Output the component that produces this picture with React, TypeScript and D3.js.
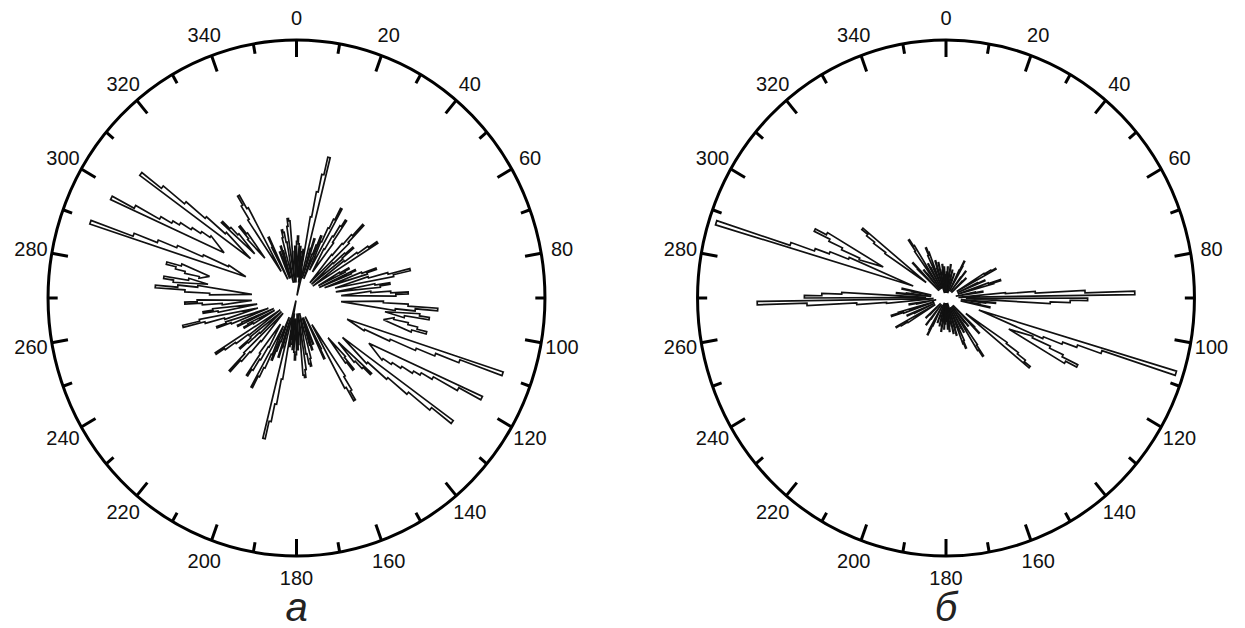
import React from 'react';
import * as d3 from 'd3';

// подписи оси через 20°, риски через 10°
const tickAngles = d3.range(0, 360, 10);
const labelAngles = d3.range(0, 360, 20);
const panelLabels = ['а', 'б'];

// лепестки розы-диаграммы, 0–180° (вторая половина — зеркально, +180°)
// a — первый градусный интервал, base — внутренний конец, v — длины по 1° (% радиуса)
type Petal = { a: number; base: number; v: number[] };

const petalsA: Petal[] = [
  { a: 0, base: 8, v: [22, 24, 21] },
  { a: 4, base: 8, v: [20, 18] },
  { a: 7, base: 6, v: [16, 19] },
  { a: 10, base: 1, v: [32, 42, 49, 56] },
  { a: 16, base: 8, v: [20, 24] },
  { a: 20, base: 8, v: [18, 22, 26] },
  { a: 24, base: 12, v: [24, 30, 34, 39] },
  { a: 30, base: 12, v: [22, 28, 33, 36, 26] },
  { a: 40, base: 8, v: [22, 28, 33, 39, 30] },
  { a: 47, base: 8, v: [20, 26, 30, 24] },
  { a: 53, base: 8, v: [24, 30, 35, 39] },
  { a: 60, base: 10, v: [20, 24, 22] },
  { a: 65, base: 10, v: [26, 24] },
  { a: 69, base: 12, v: [28, 34, 30] },
  { a: 74, base: 16, v: [30, 38, 47, 40] },
  { a: 80, base: 16, v: [32, 38, 34] },
  { a: 85, base: 18, v: [30, 38, 45, 40] },
  { a: 92, base: 18, v: [35, 45, 57, 48, 40] },
  { a: 97, base: 36, v: [50, 54, 44] },
  { a: 101, base: 36, v: [40, 46, 50, 54, 48] },
  { a: 109, base: 22, v: [88, 70, 60, 52, 41, 30] },
  { a: 117, base: 34, v: [84, 74, 63, 58, 55, 50, 46, 42] },
  { a: 127, base: 24, v: [79, 69, 58, 48, 38] },
  { a: 134, base: 24, v: [42, 38, 34] },
  { a: 139, base: 20, v: [30, 36, 32] },
  { a: 147, base: 12, v: [36, 42, 46, 40] },
  { a: 153, base: 8, v: [22, 26] },
  { a: 159, base: 8, v: [19, 17] },
  { a: 162, base: 8, v: [21, 19] },
  { a: 166, base: 6, v: [24, 27, 26, 22] },
  { a: 172, base: 6, v: [28, 31, 30] },
  { a: 177, base: 6, v: [18, 20] },
];

const petalsB: Petal[] = [
  { a: 0, base: 2, v: [8, 10] },
  { a: 3, base: 2, v: [12, 9] },
  { a: 7, base: 2, v: [10, 13] },
  { a: 12, base: 2, v: [9, 11] },
  { a: 18, base: 2, v: [8, 10] },
  { a: 26, base: 3, v: [12, 16, 14] },
  { a: 36, base: 3, v: [10, 13] },
  { a: 45, base: 3, v: [9, 11] },
  { a: 58, base: 5, v: [18, 21, 23] },
  { a: 65, base: 5, v: [14, 17] },
  { a: 71, base: 5, v: [18, 23, 20] },
  { a: 79, base: 4, v: [12, 15] },
  { a: 85, base: 5, v: [24, 36, 56, 76] },
  { a: 90, base: 8, v: [57, 50, 42] },
  { a: 95, base: 6, v: [20, 16] },
  { a: 100, base: 6, v: [14, 18] },
  { a: 107, base: 14, v: [97, 66, 56, 50, 42] },
  { a: 113, base: 28, v: [38, 46, 52, 59, 54] },
  { a: 125, base: 10, v: [30, 36, 40, 43] },
  { a: 134, base: 4, v: [16, 19] },
  { a: 140, base: 4, v: [14, 12] },
  { a: 145, base: 4, v: [22, 27, 24] },
  { a: 151, base: 4, v: [15, 13] },
  { a: 156, base: 4, v: [18, 21, 19] },
  { a: 162, base: 2, v: [12, 15] },
  { a: 167, base: 2, v: [14, 11] },
  { a: 172, base: 2, v: [10, 13] },
  { a: 176, base: 2, v: [12, 9] },
];

const W = 1245;
const H = 628;
const R = 258;
const kx = 0.963; // скан слегка сжат по горизонтали
const cy = 298;
const centers = [296.5, 946];
const font = '"Liberation Sans", Arial, sans-serif';

const rScale = d3.scaleLinear().domain([0, 100]).range([0, R]);
const ang = d3.scaleLinear().domain([0, 360]).range([0, 2 * Math.PI]);

function pt(cx: number, deg: number, rad: number): [number, number] {
  const t = ang(deg);
  return [cx + rad * Math.sin(t) * kx, cy - rad * Math.cos(t)];
}

function petalPath(cx: number, p: Petal, shift: number) {
  const a0 = p.a + shift;
  const pts: [number, number][] = [pt(cx, a0 + p.v.length / 2, rScale(p.base))];
  p.v.forEach((v, i) => {
    for (let k = 0; k <= 4; k++) pts.push(pt(cx, a0 + i + k / 4, rScale(v)));
  });
  return d3.line()(pts) + 'Z';
}

function Rose({ cx, petals, label }: { cx: number; petals: Petal[]; label: string }) {
  const all = [0, 180].flatMap((s) => petals.map((p) => ({ p, s })));
  all.sort((m, n) => d3.max(n.p.v)! - d3.max(m.p.v)!);
  return (
    <g>
      {all.map(({ p, s }, i) => (
        <path
          key={i}
          d={petalPath(cx, p, s)}
          fill="#fff"
          stroke="#111"
          strokeWidth={1.7}
          strokeLinejoin="miter"
          strokeMiterlimit={2}
        />
      ))}
      <ellipse cx={cx} cy={cy} rx={R * kx} ry={R} fill="none" stroke="#000" strokeWidth={3} />
      {tickAngles.map((t) => {
        const len = t % 20 === 0 ? 17 : 10;
        const [x1, y1] = pt(cx, t, R);
        const [x2, y2] = pt(cx, t, R - len);
        return <line key={t} x1={x1} y1={y1} x2={x2} y2={y2} stroke="#000" strokeWidth={3} />;
      })}
      {labelAngles.map((t) => {
        const [x, y] = pt(cx, t, R + 22);
        return (
          <text
            key={t}
            x={x}
            y={y}
            textAnchor="middle"
            dominantBaseline="central"
            fontFamily={font}
            fontSize={20}
            fill="#111"
          >
            {t}
          </text>
        );
      })}
      <text
        x={cx}
        y={621}
        textAnchor="middle"
        fontFamily={font}
        fontStyle="italic"
        fontSize={40}
        fill="#222"
      >
        {label}
      </text>
    </g>
  );
}

export default function App() {
  return (
    <svg
      width={W}
      height={H}
      style={{ position: 'absolute', left: 0, top: 0, background: '#fff' }}
    >
      <rect width={W} height={H} fill="#fff" />
      <Rose cx={centers[0]} petals={petalsA} label={panelLabels[0]} />
      <Rose cx={centers[1]} petals={petalsB} label={panelLabels[1]} />
    </svg>
  );
}
